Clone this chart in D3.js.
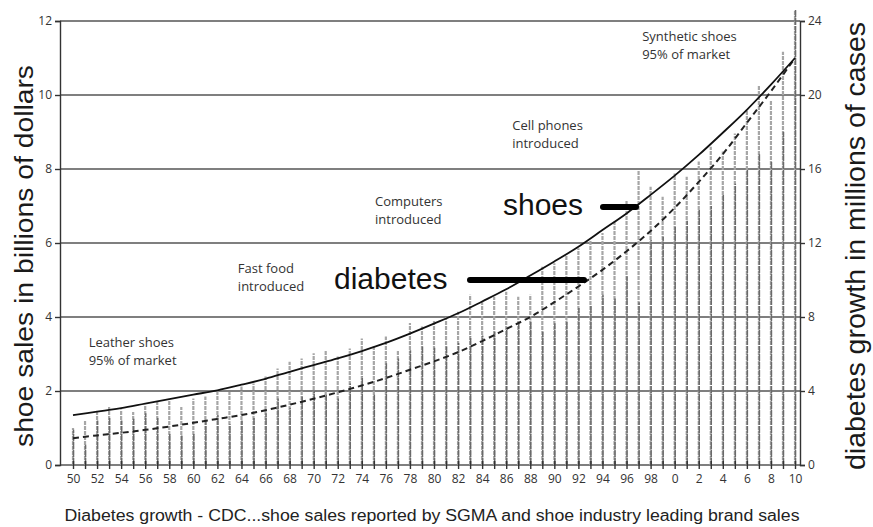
<!DOCTYPE html>
<html>
<head>
<meta charset="utf-8">
<script src="https://cdn.jsdelivr.net/npm/d3@7"></script>
<style>
  body { margin: 0; background: #fff; }
  svg text { font-family: "Open Sans", "DejaVu Sans", sans-serif; }
  .big { font-family: "Liberation Sans", Arial, sans-serif !important; }
</style>
</head>
<body>
<svg id="chart" width="873" height="527"></svg>
<script>
// years on the x axis (one bar per year)
var years = d3.range(1950, 2011);

// bar tops, left scale (billions of dollars), 1950 .. 2010
var barTops = [1.0, 1.2, 1.43, 1.57, 1.5, 1.43, 1.62, 1.7, 1.75, 1.57,
  1.8, 1.85, 2.0, 1.97, 2.12, 2.2, 2.39, 2.61, 2.79, 2.88,
  3.02, 3.11, 2.93, 3.15, 3.42, 3.2, 3.47, 3.1, 3.84, 3.74,
  3.92, 4.0, 4.14, 4.6, 4.46, 4.55, 4.68, 4.55, 4.6, 5.36,
  5.45, 5.68, 5.86, 6.08, 6.27, 6.58, 7.16, 7.97, 7.52, 7.25,
  7.88, 7.79, 8.2, 8.6, 8.47, 8.96, 9.6, 10.27, 9.86, 11.17, 12.3];

// darker lower part of each bar
var barDark = [0.95, 0.55, 1.2, 1.3, 1.2, 1.25, 1.4, 1.3, 0.85, 0.8,
  0.85, 1.2, 1.35, 1.1, 1.2, 1.3, 1.4, 1.8, 1.55, 1.85,
  2.0, 1.9, 1.8, 2.2, 2.39, 1.9, 2.75, 2.88, 3.1, 3.2,
  3.17, 3.2, 3.3, 3.47, 3.5, 3.6, 3.7, 3.87, 3.9, 3.6,
  3.83, 3.9, 4.24, 4.32, 4.6, 4.5, 5.1, 4.4, 6.08, 6.17,
  6.44, 6.6, 6.9, 7.0, 7.3, 7.6, 8.0, 8.4, 8.2, 9.0, 12.3];

// line series, every second year
var lineYears = d3.range(1950, 2011, 2);
var shoeSales = [1.35, 1.44, 1.54, 1.66, 1.78, 1.9, 2.02, 2.17, 2.33, 2.52,
  2.7, 2.88, 3.08, 3.3, 3.55, 3.82, 4.1, 4.42, 4.75, 5.12,
  5.5, 5.9, 6.35, 6.8, 7.3, 7.82, 8.38, 8.98, 9.6, 10.28, 11.0];
var diabetes = [1.45, 1.6, 1.74, 1.9, 2.08, 2.28, 2.49, 2.7, 2.96, 3.26,
  3.58, 3.93, 4.3, 4.7, 5.15, 5.6, 6.1, 6.7, 7.35, 8.0,
  8.8, 9.65, 10.55, 11.55, 12.65, 13.9, 15.3, 16.8, 18.5, 20.2, 22.0];

var leftTicks = [0, 2, 4, 6, 8, 10, 12];
var rightTicks = [0, 4, 8, 12, 16, 20, 24];

var notes = [
  {year: 1951.3, value: 3.2, lines: ["Leather shoes", "95% of market"]},
  {year: 1963.7, value: 5.2, lines: ["Fast food", "introduced"]},
  {year: 1975.1, value: 7.0, lines: ["Computers", "introduced"]},
  {year: 1986.5, value: 9.05, lines: ["Cell phones", "introduced"]},
  {year: 1997.3, value: 11.45, lines: ["Synthetic shoes", "95% of market"]}
];

var svg = d3.select("#chart");

var x = d3.scaleLinear().domain([1950, 2010]).range([73, 795]);
var yL = d3.scaleLinear().domain([0, 12]).range([465, 21]);
var yR = d3.scaleLinear().domain([0, 24]).range([465, 21]);
var axisL = 60, axisR = 800;

// horizontal grid
svg.append("g").selectAll("line")
  .data(leftTicks)
  .join("line")
    .attr("x1", axisL).attr("x2", axisR)
    .attr("y1", d => yL(d)).attr("y2", d => yL(d))
    .attr("stroke", "#555").attr("stroke-width", 1.3);

// bars
var bars = svg.append("g");
bars.selectAll("line.light")
  .data(years)
  .join("line")
    .attr("class", "light")
    .attr("x1", d => x(d)).attr("x2", d => x(d))
    .attr("y1", yL(0)).attr("y2", (d, i) => yL(barTops[i]))
    .attr("stroke", "#a6a6a6").attr("stroke-width", 2.2)
    .attr("stroke-dasharray", "4,1");
bars.selectAll("line.dark")
  .data(years)
  .join("line")
    .attr("class", "dark")
    .attr("x1", d => x(d) + 0.5).attr("x2", d => x(d) + 0.5)
    .attr("y1", yL(0)).attr("y2", (d, i) => yL(barDark[i]))
    .attr("stroke", "#6a6a6a").attr("stroke-width", 1.5)
    .attr("stroke-dasharray", "7,1");

// axes
var gl = svg.append("g")
  .attr("transform", "translate(" + axisL + ",0)")
  .call(d3.axisLeft(yL).tickValues(leftTicks).tickSize(5).tickPadding(3));
var gr = svg.append("g")
  .attr("transform", "translate(" + axisR + ",0)")
  .call(d3.axisRight(yR).tickValues(rightTicks).tickSize(5).tickPadding(3));
var gb = svg.append("g")
  .attr("transform", "translate(0," + (yL(0) - 4) + ")")
  .call(d3.axisBottom(x).tickValues(years).tickSize(8).tickPadding(5)
    .tickFormat(d => d % 2 === 0 ? String(d % 100) : ""));
gb.select(".domain").remove();

[gl, gr, gb].forEach(function(g) {
  g.selectAll("path, line").attr("stroke", "#333").attr("stroke-width", 1.4);
  g.selectAll("text").attr("fill", "#333").style("font-size", "12px");
});

// lines
var shoeLine = d3.line()
  .x((d, i) => x(lineYears[i]))
  .y(d => yL(d))
  .curve(d3.curveCatmullRom);
var diabLine = d3.line()
  .x((d, i) => x(lineYears[i]))
  .y(d => yR(d))
  .curve(d3.curveCatmullRom);

svg.append("path")
  .datum(diabetes)
  .attr("d", diabLine)
  .attr("fill", "none").attr("stroke", "#222")
  .attr("stroke-width", 2).attr("stroke-dasharray", "6,4");
svg.append("path")
  .datum(shoeSales)
  .attr("d", shoeLine)
  .attr("fill", "none").attr("stroke", "#111")
  .attr("stroke-width", 1.8);

// notes
var ng = svg.append("g").selectAll("text")
  .data(notes)
  .join("text")
    .attr("x", d => x(d.year))
    .attr("y", d => yL(d.value))
    .attr("fill", "#333").style("font-size", "13px");
ng.selectAll("tspan")
  .data(d => d.lines)
  .join("tspan")
    .attr("x", function() { return this.parentNode.getAttribute("x"); })
    .attr("dy", (d, i) => i ? 18 : 0)
    .text(d => d);

// big labels with pointers
svg.append("text").attr("class", "big")
  .attr("x", 334).attr("y", 289)
  .style("font-size", "30px").attr("fill", "#111")
  .text("diabetes");
svg.append("line")
  .attr("x1", 470).attr("x2", 584).attr("y1", 280).attr("y2", 280)
  .attr("stroke", "#000").attr("stroke-width", 6).attr("stroke-linecap", "round");
svg.append("text").attr("class", "big")
  .attr("x", 503).attr("y", 215)
  .style("font-size", "30px").attr("fill", "#111")
  .text("shoes");
svg.append("line")
  .attr("x1", 603).attr("x2", 636).attr("y1", 207).attr("y2", 207)
  .attr("stroke", "#000").attr("stroke-width", 6).attr("stroke-linecap", "round");

// axis titles
svg.append("text").attr("class", "big")
  .attr("transform", "translate(33,256) rotate(-90)")
  .attr("text-anchor", "middle")
  .style("font-size", "26px").attr("fill", "#1a1a1a")
  .attr("textLength", 382).attr("lengthAdjust", "spacingAndGlyphs")
  .text("shoe sales in billions of dollars");
svg.append("text").attr("class", "big")
  .attr("transform", "translate(865,246) rotate(-90)")
  .attr("text-anchor", "middle")
  .style("font-size", "27px").attr("fill", "#1a1a1a")
  .attr("textLength", 448).attr("lengthAdjust", "spacingAndGlyphs")
  .text("diabetes growth in millions of cases");

// caption
svg.append("text").attr("class", "big")
  .attr("x", 432).attr("y", 521)
  .attr("text-anchor", "middle")
  .style("font-size", "16px").attr("fill", "#222")
  .attr("textLength", 735).attr("lengthAdjust", "spacingAndGlyphs")
  .text("Diabetes growth - CDC...shoe sales reported by SGMA and shoe industry leading brand sales");
</script>
</body>
</html>
